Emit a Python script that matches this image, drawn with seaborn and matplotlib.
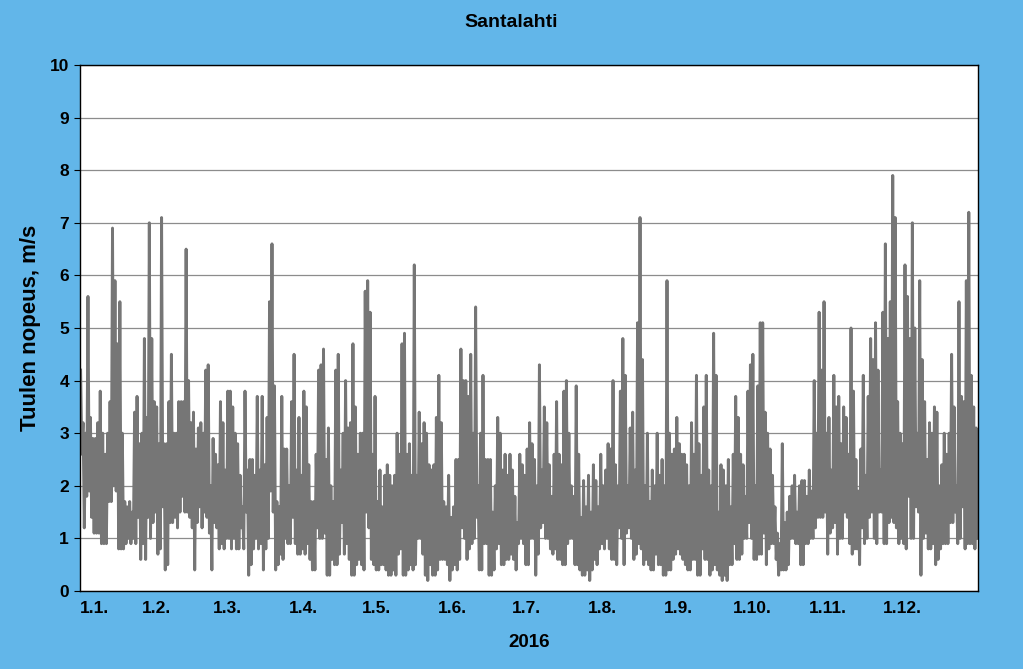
import numpy as np
import pandas as pd
import matplotlib
matplotlib.use("Agg")
import matplotlib.pyplot as plt
import seaborn as sns

# Daily maximum wind speed (m/s), Jan 1 .. Dec 31 2016
jan_max = [4.2, 3.2, 3.0, 5.6, 3.3, 2.9, 2.9, 3.2, 3.8, 3.0, 2.6, 3.0, 3.6, 6.9, 5.9, 4.7, 5.5, 3.0, 1.7, 1.6, 1.7, 1.5, 3.4, 3.7, 2.8, 3.0, 4.8, 3.3, 7.0, 4.8, 3.6]
feb_max = [3.5, 2.8, 7.1, 2.8, 2.8, 3.6, 4.5, 3.0, 3.0, 3.6, 3.6, 3.6, 6.5, 4.0, 3.2, 3.4, 2.7, 3.1, 3.2, 3.0, 4.2, 4.3, 2.0, 2.9, 2.6, 2.4, 3.6, 3.2, 2.3]
mar_max = [3.8, 3.8, 3.5, 3.0, 2.8, 2.2, 1.6, 3.8, 2.3, 2.5, 2.5, 2.2, 3.7, 2.3, 3.7, 2.4, 3.3, 5.5, 6.6, 3.9, 1.7, 1.6, 3.7, 2.7, 2.7, 2.0, 3.6, 4.5, 2.3, 3.3, 2.2]
apr_max = [3.8, 3.5, 2.4, 1.7, 1.7, 2.6, 4.2, 4.3, 4.6, 2.5, 3.1, 2.0, 1.7, 4.2, 4.5, 2.3, 3.0, 4.0, 3.1, 3.2, 4.7, 3.5, 2.6, 3.0, 3.0, 5.7, 5.9, 5.3, 2.6, 3.7]
may_max = [1.7, 2.3, 1.6, 2.2, 2.4, 2.2, 2.0, 2.2, 3.0, 2.6, 4.7, 4.9, 2.6, 2.8, 2.2, 6.2, 2.2, 3.4, 2.8, 3.2, 3.0, 2.4, 2.3, 2.4, 3.3, 4.1, 3.2, 1.7, 1.6, 2.2, 1.4]
jun_max = [1.6, 2.5, 2.5, 4.6, 4.0, 4.0, 3.7, 4.5, 3.0, 5.4, 2.0, 3.0, 4.1, 2.5, 2.5, 2.5, 1.5, 2.0, 3.3, 3.0, 2.3, 2.6, 2.2, 2.6, 2.3, 1.8, 1.3, 2.6, 2.4, 2.2]
jul_max = [2.7, 3.2, 2.8, 2.5, 2.0, 4.3, 2.3, 3.5, 3.2, 2.4, 1.8, 2.6, 3.6, 2.6, 2.4, 3.8, 4.0, 3.0, 2.0, 1.8, 3.9, 2.6, 1.4, 2.1, 1.6, 2.2, 1.5, 2.4, 2.1, 1.6, 2.6]
aug_max = [2.0, 2.3, 2.8, 2.7, 4.0, 2.4, 2.0, 3.8, 4.8, 4.1, 2.0, 3.1, 3.4, 2.3, 5.1, 7.1, 4.4, 2.0, 3.0, 1.7, 2.3, 2.0, 3.0, 2.2, 2.5, 2.0, 5.9, 3.0, 2.6, 2.7, 3.3]
sep_max = [2.8, 2.6, 2.6, 2.4, 2.0, 3.2, 2.6, 4.1, 2.8, 2.2, 3.5, 4.1, 2.3, 2.0, 4.9, 4.1, 1.5, 2.4, 2.3, 2.0, 2.5, 1.6, 2.6, 3.7, 3.3, 2.6, 2.4, 1.8, 3.8, 4.3]
oct_max = [4.5, 2.0, 3.9, 5.1, 5.1, 3.4, 3.0, 2.7, 2.2, 1.6, 1.1, 0.9, 2.8, 1.3, 1.5, 1.8, 2.0, 2.2, 1.5, 2.0, 2.1, 2.1, 1.8, 2.3, 1.9, 4.0, 3.0, 5.3, 4.2, 5.5, 3.0]
nov_max = [3.3, 2.3, 4.1, 3.5, 3.7, 2.8, 3.5, 3.3, 2.6, 5.0, 3.8, 2.5, 1.9, 2.7, 4.1, 2.2, 3.7, 4.8, 4.4, 5.1, 4.2, 2.3, 5.3, 6.6, 4.8, 5.5, 7.9, 7.1, 3.6, 3.0]
dec_max = [2.8, 6.2, 5.6, 4.8, 7.0, 5.0, 3.0, 5.9, 4.4, 3.6, 2.5, 3.2, 3.0, 3.5, 3.4, 2.0, 2.4, 3.0, 2.6, 3.0, 4.5, 3.5, 2.0, 5.5, 3.7, 3.6, 5.9, 7.2, 4.1, 3.5, 3.1]

# Daily minimum wind speed (m/s)
jan_min = [2.6, 1.2, 1.8, 1.9, 1.4, 1.1, 1.1, 1.1, 0.9, 0.9, 0.9, 1.7, 1.7, 2.0, 1.9, 0.8, 0.8, 0.8, 0.9, 1.0, 0.9, 1.0, 0.9, 1.4, 0.6, 0.9, 0.6, 1.4, 1.0, 1.3, 1.5]
feb_min = [0.7, 0.8, 1.6, 0.4, 0.5, 1.3, 1.3, 1.4, 1.2, 1.5, 1.8, 1.5, 1.5, 1.4, 1.2, 0.4, 1.3, 1.6, 1.2, 1.5, 1.4, 1.1, 0.4, 1.3, 1.2, 0.8, 0.9, 0.8, 1.0]
mar_min = [1.0, 0.8, 1.0, 0.8, 0.8, 1.2, 0.8, 1.5, 0.3, 0.5, 0.8, 1.0, 0.8, 0.9, 0.4, 0.8, 1.0, 1.9, 1.5, 0.4, 0.5, 0.7, 0.6, 1.0, 0.9, 0.9, 1.4, 0.9, 0.7, 0.7, 0.8]
apr_min = [0.7, 0.9, 0.6, 0.4, 0.4, 1.2, 1.0, 1.0, 1.1, 0.3, 0.3, 0.6, 0.5, 0.5, 0.7, 1.3, 0.7, 0.9, 0.6, 0.3, 0.3, 0.5, 0.6, 0.5, 0.4, 1.5, 1.2, 0.6, 0.5, 0.4]
may_min = [0.4, 0.5, 0.5, 0.4, 0.3, 0.3, 0.4, 0.3, 0.7, 0.8, 0.3, 0.3, 0.4, 0.5, 0.4, 0.5, 1.0, 1.0, 0.7, 0.3, 0.2, 0.5, 0.3, 0.3, 0.4, 0.6, 0.6, 0.6, 0.5, 0.2, 0.4]
jun_min = [0.5, 0.4, 0.6, 1.2, 1.0, 0.6, 0.8, 0.9, 1.0, 1.4, 0.4, 0.4, 0.9, 0.9, 0.3, 0.3, 0.4, 0.8, 0.9, 0.5, 0.5, 0.6, 0.6, 0.7, 0.6, 0.4, 0.9, 1.0, 0.9, 0.5]
jul_min = [0.5, 1.0, 1.0, 0.3, 0.7, 1.2, 1.3, 1.0, 1.0, 0.8, 0.7, 0.8, 0.6, 0.6, 0.5, 0.5, 0.9, 1.0, 1.0, 0.5, 0.5, 0.4, 0.3, 0.3, 0.4, 0.2, 0.4, 0.6, 0.5, 0.8, 0.9]
aug_min = [0.8, 1.0, 0.8, 0.6, 0.6, 0.5, 1.2, 1.0, 0.5, 1.1, 1.2, 1.0, 0.6, 0.7, 0.9, 0.8, 0.5, 0.6, 0.5, 0.4, 0.4, 0.7, 0.5, 0.5, 0.3, 0.3, 0.4, 0.4, 0.6, 0.7, 0.8]
sep_min = [0.7, 0.6, 0.5, 0.4, 0.4, 0.6, 0.6, 0.3, 0.3, 0.8, 0.6, 0.6, 0.3, 0.4, 0.5, 0.4, 0.3, 0.2, 0.3, 0.2, 0.5, 0.5, 0.9, 0.6, 0.6, 0.7, 1.0, 1.0, 1.3, 1.0]
oct_min = [0.6, 0.6, 0.7, 0.7, 1.1, 0.5, 0.8, 0.9, 0.9, 0.6, 0.3, 0.4, 0.4, 0.4, 0.5, 1.0, 1.0, 0.9, 0.9, 0.5, 0.5, 0.9, 0.9, 1.0, 1.0, 1.2, 1.4, 1.4, 1.4, 1.5, 0.7]
nov_min = [1.1, 1.2, 1.3, 0.7, 1.0, 1.0, 1.5, 1.4, 0.9, 0.7, 0.8, 0.8, 0.5, 1.2, 0.9, 1.0, 1.4, 1.5, 1.0, 0.9, 1.5, 1.5, 0.9, 0.9, 1.3, 1.4, 1.3, 1.2, 0.9, 1.0]
dec_min = [0.9, 0.8, 1.8, 1.0, 1.0, 1.6, 1.5, 0.3, 1.0, 1.1, 0.8, 0.8, 0.9, 0.5, 0.6, 0.8, 0.9, 0.9, 0.9, 1.3, 1.3, 1.5, 0.9, 1.0, 1.6, 0.8, 0.9, 0.9, 0.9, 0.8, 1.0]

month_labels = ["1.1.", "1.2.", "1.3.", "1.4.", "1.5.", "1.6.", "1.7.", "1.8.", "1.9.", "1.10.", "1.11.", "1.12."]
month_days = [31, 29, 31, 30, 31, 30, 31, 31, 30, 31, 30, 31]

daily_max = jan_max + feb_max + mar_max + apr_max + may_max + jun_max + jul_max + aug_max + sep_max + oct_max + nov_max + dec_max
daily_min = jan_min + feb_min + mar_min + apr_min + may_min + jun_min + jul_min + aug_min + sep_min + oct_min + nov_min + dec_min

# Build the time series: each day contributes its high and its low
t, v = [], []
for d, (hi, lo) in enumerate(zip(daily_max, daily_min)):
    t += [d + 0.25, d + 0.75]
    v += [hi, lo]
df = pd.DataFrame({"day": t, "speed": v})

month_starts = np.concatenate([[0], np.cumsum(month_days)[:-1]])

bg = "#62b6e9"
fig = plt.figure(figsize=(10.23, 6.69), dpi=100, facecolor=bg)
ax = fig.add_axes([0.0782, 0.1166, 0.8778, 0.7862])
ax.set_facecolor("white")

sns.lineplot(data=df, x="day", y="speed", ax=ax, color="#767676", linewidth=2.1,
             estimator=None, sort=False)

ax.set_xlim(0, 366)
ax.set_ylim(0, 10)
ax.set_yticks(range(0, 11))
ax.yaxis.grid(True, color="#8c8c8c", linewidth=0.9)
ax.xaxis.grid(False)
ax.set_axisbelow(True)

for s in ax.spines.values():
    s.set_color("black")
    s.set_linewidth(1.0)

font = "Liberation Sans"
ax.set_xticks(month_starts)
ax.set_xticklabels(month_labels, fontfamily=font, fontweight="bold", fontsize=12.5)
ax.get_xticklabels()[0].set_horizontalalignment("left")
ax.tick_params(axis="x", length=0, pad=7)
ax.tick_params(axis="y", length=4, direction="out", pad=4)
for lab in ax.get_yticklabels():
    lab.set_fontfamily(font)
    lab.set_fontweight("bold")
    lab.set_fontsize(12.5)

ax.set_xlabel("2016", fontfamily=font, fontweight="bold", fontsize=13.5, labelpad=13)
ax.set_ylabel("Tuulen nopeus, m/s", fontfamily=font, fontweight="bold", fontsize=16, labelpad=6)
fig.text(0.5, 0.966, "Santalahti", ha="center", va="center", fontfamily=font,
         fontweight="bold", fontsize=14)

fig.savefig("out.png", dpi=100, facecolor=bg)
